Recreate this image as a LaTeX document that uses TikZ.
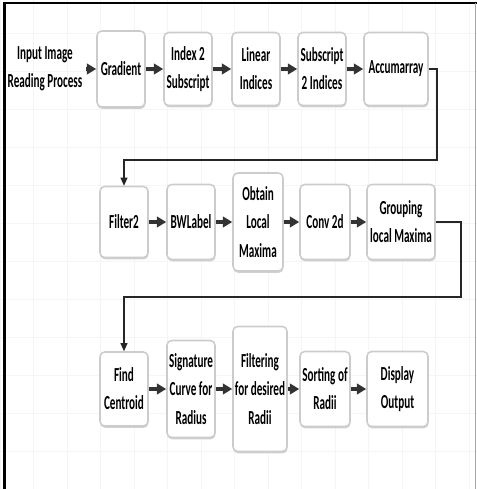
\documentclass[tikz,border=0pt]{standalone}
\usepackage{fontspec}
\setmainfont{Carlito}[FakeStretch=0.56]
\usetikzlibrary{arrows.meta,shadows}

\begin{document}
\begin{tikzpicture}[x=0.3cm, y=0.3cm,
    stage/.style={draw=gray!40, line width=1.3pt, rectangle, rounded corners=4pt, fill=white,
        drop shadow={shadow xshift=0.4pt, shadow yshift=-1.6pt, fill=gray!45, opacity=0.8},
        align=center, inner sep=1pt, font=\bfseries\fontsize{17}{24}\selectfont},
    flow/.style={-{Triangle[length=8pt,width=9pt]}, line width=2.6pt, black!80},
    link/.style={-{Triangle[length=7pt,width=6pt]}, line width=1.1pt, black!85}]
    \useasboundingbox (0,0) rectangle (47.7,48.9);
    % background grid and frame
    \draw[gray!8, line width=0.4pt] (0,0) grid[xstep=3.35, ystep=3.8] (47.7,48.9);
    \draw[black, line width=2.5pt] (0.45,0) -- (0.45,48.6) -- (47.7,48.6);
    \draw[gray!70, line width=0.8pt] (47.5,0) -- (47.5,48.6);

    % first row
    \node[align=center, font=\bfseries\fontsize{17}{24}\selectfont] (input) at (4.5,42) {Input Image\\Reading Process};
    \node[stage, minimum width=1.44cm, minimum height=2.28cm] (grad) at (12.1,42) {Gradient};
    \node[stage, minimum width=1.44cm, minimum height=2.19cm] (idx2sub) at (18.8,42) {Index 2\\Subscript};
    \node[stage, minimum width=1.44cm, minimum height=2.19cm] (linidx) at (25.6,42) {Linear\\Indices};
    \node[stage, minimum width=1.44cm, minimum height=2.19cm] (sub2idx) at (32.2,42) {Subscript\\2 Indices};
    \node[stage, minimum width=1.92cm, minimum height=2.19cm] (accum) at (39.6,42) {Accumarray};

    % second row
    \node[stage, minimum width=1.44cm, minimum height=2.13cm] (filt2) at (12.4,26.7) {Filter2};
    \node[stage, minimum width=1.44cm, minimum height=2.25cm] (bwlabel) at (19.1,26.7) {BWLabel};
    \node[stage, minimum width=1.50cm, minimum height=2.94cm] (locmax) at (25.8,26.7) {Obtain\\Local\\Maxima};
    \node[stage, minimum width=1.50cm, minimum height=2.25cm] (conv) at (32.5,26.7) {Conv 2d};
    \node[stage, minimum width=2.04cm, minimum height=2.25cm] (group) at (40.1,26.7) {Grouping\\local Maxima};

    % third row
    \node[stage, minimum width=1.44cm, minimum height=2.22cm] (centroid) at (12.4,10) {Find\\Centroid};
    \node[stage, minimum width=1.44cm, minimum height=2.91cm] (sigcurve) at (19.1,10) {Signature\\Curve for\\Radius};
    \node[stage, minimum width=1.62cm, minimum height=3.75cm] (radfilt) at (26.0,10) {Filtering\\for desired\\Radii};
    \node[stage, minimum width=1.50cm, minimum height=2.25cm] (sortrad) at (32.5,10) {Sorting of\\Radii};
    \node[stage, minimum width=1.83cm, minimum height=2.25cm] (display) at (39.75,10) {Display\\Output};

    \coordinate (turnA) at (43.7,32.9);
    \coordinate (turnB) at (46.1,19.2);

    \draw[flow] (input)--(grad); \draw[flow] (grad)--(idx2sub); \draw[flow] (idx2sub)--(linidx);
    \draw[flow] (linidx)--(sub2idx); \draw[flow] (sub2idx)--(accum);
    \draw[link] (accum.east) -| (turnA) -| (filt2.north);
    \draw[flow] (filt2)--(bwlabel); \draw[flow] (bwlabel)--(locmax);
    \draw[flow] (locmax)--(conv); \draw[flow] (conv)--(group);
    \draw[link] (group.east) -| (turnB) -| (centroid.north);
    \draw[flow] (centroid)--(sigcurve); \draw[flow] (sigcurve)--(radfilt);
    \draw[flow] (radfilt)--(sortrad); \draw[flow] (sortrad)--(display);
\end{tikzpicture}
\end{document}
